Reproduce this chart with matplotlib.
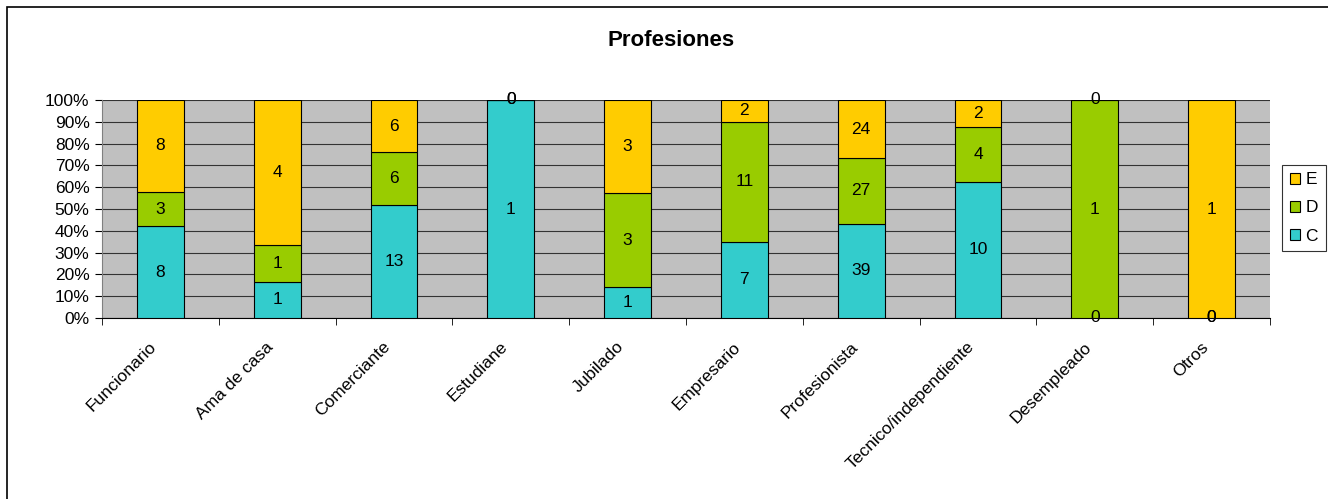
import matplotlib
matplotlib.use("Agg")
import matplotlib.pyplot as plt
from matplotlib.patches import Rectangle
from matplotlib.transforms import ScaledTranslation
import numpy as np

plt.rcParams['font.family'] = ['Liberation Sans', 'DejaVu Sans']

categories = ["Funcionario", "Ama de casa", "Comerciante", "Estudiane", "Jubilado",
              "Empresario", "Profesionista", "Tecnico/independiente", "Desempleado", "Otros"]
C = [8, 1, 13, 1, 1, 7, 39, 10, 0, 0]
D = [3, 1, 6, 0, 3, 11, 27, 4, 1, 0]
E = [8, 4, 6, 0, 3, 2, 24, 2, 0, 1]
series = [("C", C, "#33CCCC"), ("D", D, "#99CC00"), ("E", E, "#FFCC00")]
yticks = [0, 10, 20, 30, 40, 50, 60, 70, 80, 90, 100]

FS = 12.5
fig = plt.figure(figsize=(13.28, 4.99), dpi=100)
fig.patches.append(Rectangle((7/1328, -0.1), 1.2, 1 - 7/499 + 0.1, transform=fig.transFigure,
                             fill=False, edgecolor="black", linewidth=1.2))
ax = fig.add_axes([102/1328, 1 - 318/499, (1270 - 102)/1328, (318 - 100)/499])
ax.set_facecolor("#C0C0C0")

x = np.arange(len(categories))
totals = np.array(C) + np.array(D) + np.array(E)
bottom = np.zeros(len(categories))
handles = {}
for name, vals, col in series:
    pct = np.array(vals) / totals * 100
    b = ax.bar(x, pct, width=0.4, bottom=bottom, color=col, edgecolor="black", linewidth=0.8, zorder=3)
    handles[name] = b
    for xi, p, bt, v in zip(x, pct, bottom, vals):
        ax.text(xi, bt + p / 2, str(v), ha="center", va="center", fontsize=FS, zorder=4)
    bottom = bottom + pct

ax.set_xlim(-0.5, len(categories) - 0.5)
ax.set_ylim(0, 100)
ax.set_yticks(yticks)
ax.set_yticklabels([f"{t}%" for t in yticks], fontsize=FS)
ax.yaxis.grid(True, color="#333333", linewidth=0.8, zorder=1)
ax.set_axisbelow(True)
ax.set_xticks(x)
ax.set_xticklabels(categories, rotation=45, ha="right", va="center", rotation_mode="anchor", fontsize=FS)
ax.tick_params(axis="x", length=0, pad=19)
off = ScaledTranslation(-6/100, 0, fig.dpi_scale_trans)
for lbl in ax.get_xticklabels():
    lbl.set_transform(lbl.get_transform() + off)
ax.set_xticks(np.arange(len(categories) + 1) - 0.5, minor=True)
ax.tick_params(axis="x", which="minor", length=5, color="black")
ax.tick_params(axis="y", length=5, color="black", pad=4)
for s in ["top", "right"]:
    ax.spines[s].set_visible(False)
ax.spines["left"].set_color("#808080")
ax.spines["bottom"].set_color("black")

fig.text(671/1328, 1 - 40/499, "Profesiones", ha="center", va="center", fontsize=16, fontweight="bold")

leg = fig.legend([handles["E"], handles["D"], handles["C"]], ["E", "D", "C"],
                 loc="center", bbox_to_anchor=(1304/1328, 1 - 208/499),
                 frameon=True, fancybox=False, edgecolor="black", fontsize=FS,
                 handlelength=0.6, handleheight=0.6, handletextpad=0.3,
                 labelspacing=0.75, borderpad=0.45, borderaxespad=0)
leg.get_frame().set_linewidth(0.8)

fig.savefig("out.png", dpi=100)
